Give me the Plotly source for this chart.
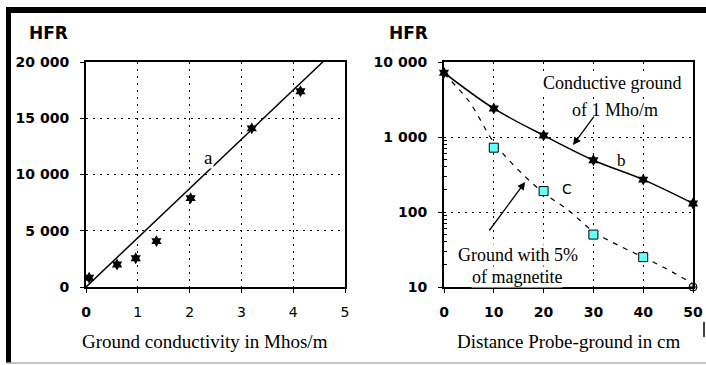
"""HFR vs ground conductivity and vs probe-ground distance, two panels."""

from __future__ import annotations

import plotly.graph_objects as go

# ---------------------------------------------------------------------------
# Data
# ---------------------------------------------------------------------------

# Left panel: HFR against ground conductivity (Mhos/m)
cond_x = [0.06, 0.60, 0.96, 1.36, 2.02, 3.20, 4.14]
cond_hfr = [830, 2000, 2550, 4080, 7900, 14100, 17400]
cond_fit_x = [0.0, 4.57]
cond_fit_hfr = [0, 20000]

# Right panel: HFR against probe-ground distance (cm)
dist_b = [0, 10, 20, 30, 40, 50]
hfr_b = [7200, 2400, 1050, 490, 270, 130]
dist_c = [10, 20, 30, 40]
hfr_c = [720, 190, 50, 25]
dist_c_end = [50]
hfr_c_end = [10]
dist_c_fit = [0, 5, 10, 15, 20, 25, 30, 35, 40, 45, 50]
hfr_c_fit = [7000, 3000, 850, 360, 180, 105, 55, 36, 25, 17, 11]

left_y_ticks = [0, 5000, 10000, 15000, 20000]
left_y_text = ["0", "5 000", "10 000", "15 000", "20 000"]
left_x_ticks = [0, 1, 2, 3, 4, 5]
left_x_text = ["<b>0</b>", "1", "2", "3", "4", "5"]
right_y_ticks = [10, 100, 1000, 10000]
right_y_text = ["10", "100", "1 000", "10 000"]
right_x_ticks = [0, 10, 20, 30, 40, 50]
right_y_minor = [20, 30, 40, 50, 60, 70, 80, 90,
                 200, 300, 400, 500, 600, 700, 800, 900]

# ---------------------------------------------------------------------------
# Style
# ---------------------------------------------------------------------------

W, H = 706, 365
SANS = "DejaVu Sans"
SERIF = "Liberation Serif"
CYAN = "#66FFFF"


def _px(x: float) -> float:
    return x / W


def _py(y: float) -> float:
    return 1 - y / H


def _axis(**extra) -> dict:
    base = dict(
        automargin=False,
        showline=True,
        mirror=True,
        linecolor="black",
        linewidth=2,
        showgrid=True,
        gridcolor="black",
        gridwidth=1,
        griddash="2px,5px",
        zeroline=False,
        ticks="outside",
        ticklen=4,
        tickcolor="black",
        tickfont=dict(family=SANS, size=14, color="black", weight="bold"),
    )
    base.update(extra)
    return base


fig = go.Figure()

# left panel
fig.add_trace(
    go.Scatter(
        x=cond_fit_x, y=cond_fit_hfr, mode="lines",
        line=dict(color="black", width=1.5), xaxis="x", yaxis="y",
    )
)
fig.add_trace(
    go.Scatter(
        x=cond_x, y=cond_hfr, mode="markers",
        marker=dict(symbol="hexagram", size=9, color="black"),
        xaxis="x", yaxis="y", cliponaxis=False,
    )
)

# right panel
fig.add_trace(
    go.Scatter(
        x=dist_c_fit, y=hfr_c_fit, mode="lines",
        line=dict(color="black", width=1.2, dash="5px,6px", shape="spline"),
        xaxis="x2", yaxis="y2",
    )
)
fig.add_trace(
    go.Scatter(
        x=dist_b, y=hfr_b, mode="lines+markers",
        line=dict(color="black", width=1.5, shape="spline"),
        marker=dict(symbol="hexagram", size=9, color="black"),
        xaxis="x2", yaxis="y2", cliponaxis=False,
    )
)
fig.add_trace(
    go.Scatter(
        x=dist_c, y=hfr_c, mode="markers",
        marker=dict(symbol="square", size=9, color=CYAN,
                    line=dict(color="black", width=1)),
        xaxis="x2", yaxis="y2", cliponaxis=False,
    )
)
fig.add_trace(
    go.Scatter(
        x=dist_c_end, y=hfr_c_end, mode="markers",
        marker=dict(symbol="circle-cross", size=8, color="#C8D8FF",
                    line=dict(color="black", width=1)),
        xaxis="x2", yaxis="y2", cliponaxis=False,
    )
)

# ---------------------------------------------------------------------------
# Annotations
# ---------------------------------------------------------------------------

ann = []


def _text(text, x, y, size=18, family=SERIF, ref="paper", bg=None, **kw):
    d = dict(
        text=text, x=x, y=y, showarrow=False,
        font=dict(family=family, size=size, color="black"),
        xanchor="center", yanchor="middle",
    )
    if ref == "paper":
        d.update(xref="paper", yref="paper")
    else:
        d.update(xref="x2" if ref == "r" else "x", yref="y2" if ref == "r" else "y")
    if bg:
        d["bgcolor"] = bg
    d.update(kw)
    ann.append(d)


_text("<b>HFR</b>", _px(48), _py(33), size=17, family=SANS)
_text("<b>HFR</b>", _px(408), _py(33), size=17, family=SANS)
_text("Ground conductivity in Mhos/m", _px(205), _py(341), size=19)
_text("Distance Probe-ground in cm", _px(568), _py(341), size=19)

_text("a", 2.37, 11500, size=19, ref="l", bg="white", borderpad=0)
_text("b", 35.7, 2.69, size=17, ref="r")
_text("C", 24.7, 2.31, size=14, family=SANS, ref="r")
_text("Conductive ground", 33.8, 3.72, ref="r", bg="white", borderpad=0)
_text("of 1 Mho/m", 34.4, 3.36, ref="r", bg="white", borderpad=0)
_text("Ground with 5%", 14.9, 1.43, ref="r", bg="white", borderpad=0)
_text("of magnetite", 14.7, 1.13, ref="r", bg="white", borderpad=0)

# arrows: head in data coords, tail as pixel offset
for hx, hy, ax, ay in [(25.9, 2.893, 22, -30), (16.3, 2.4, -37, 50)]:
    ann.append(
        dict(
            text="", x=hx, y=hy, xref="x2", yref="y2",
            showarrow=True, arrowhead=2, arrowsize=1.2, arrowwidth=1.3,
            arrowcolor="black", ax=ax, ay=ay,
        )
    )

# ---------------------------------------------------------------------------
# Frame around the picture
# ---------------------------------------------------------------------------

shapes = [
    dict(type="rect", xref="paper", yref="paper",
         x0=_px(6), x1=_px(W), y0=_py(13), y1=_py(7),
         fillcolor="black", line_width=0),
    dict(type="rect", xref="paper", yref="paper",
         x0=_px(6), x1=_px(11), y0=_py(363), y1=_py(7),
         fillcolor="black", line_width=0),
    dict(type="line", xref="paper", yref="paper",
         x0=_px(6), x1=_px(W), y0=_py(363), y1=_py(363),
         line=dict(color="#B0B0B0", width=1.5)),
    dict(type="line", xref="paper", yref="paper",
         x0=_px(704), x1=_px(704), y0=_py(322), y1=_py(337),
         line=dict(color="black", width=1.5)),
]

y_dom = [_py(287), _py(62)]

fig.update_layout(
    width=W,
    height=H,
    margin=dict(l=0, r=0, t=0, b=0, autoexpand=False),
    paper_bgcolor="white",
    plot_bgcolor="white",
    showlegend=False,
    xaxis=_axis(
        domain=[_px(86), _px(345)], anchor="y", range=[0, 5],
        tickvals=left_x_ticks, ticktext=left_x_text, ticklabelstandoff=7,
        tickfont=dict(family=SANS, size=14, color="black"),
    ),
    yaxis=_axis(
        domain=y_dom, anchor="x", range=[0, 20000],
        tickvals=left_y_ticks, ticktext=left_y_text, ticklabelstandoff=8,
    ),
    xaxis2=_axis(
        domain=[_px(444), _px(693)], anchor="y2", range=[0, 50],
        tickvals=right_x_ticks, ticklabelstandoff=7,
    ),
    yaxis2=_axis(
        domain=y_dom, anchor="x2", type="log", range=[1, 4],
        tickvals=right_y_ticks, ticktext=right_y_text, ticklabelstandoff=8,
        minor=dict(ticks="inside", ticklen=3, tickcolor="black",
                   tickvals=right_y_minor, showgrid=False),
    ),
    annotations=ann,
    shapes=shapes,
)

# the page body has a default margin; drop it so the figure sits at 0,0
fig.write_html(
    "out.html",
    config={"displayModeBar": False},
    post_script="document.body.style.margin='0';",
)
